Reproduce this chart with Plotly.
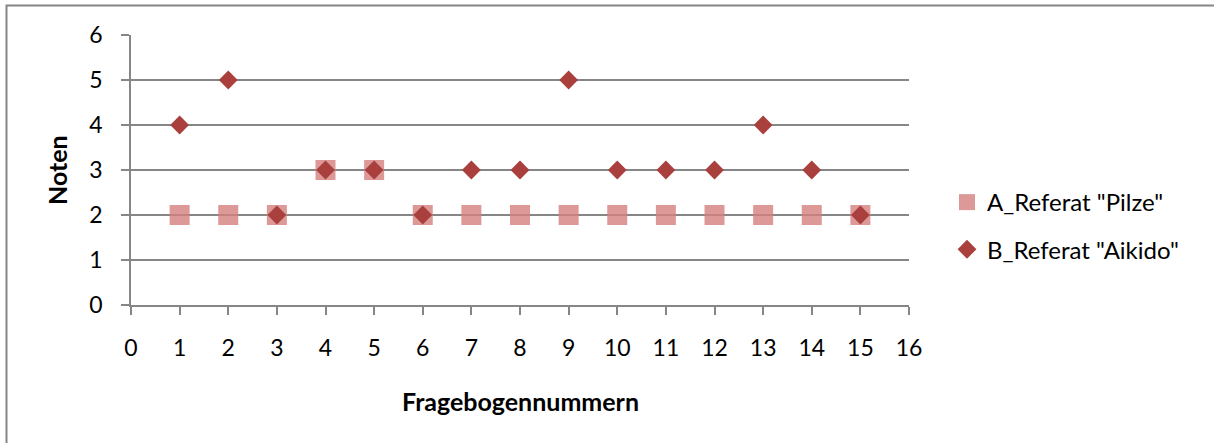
import plotly.graph_objects as go

fragebogen = list(range(1, 16))
noten_pilze = [2, 2, 2, 3, 3, 2, 2, 2, 2, 2, 2, 2, 2, 2, 2]
noten_aikido = [4, 5, 2, 3, 3, 2, 3, 3, 5, 3, 3, 3, 4, 3, 2]
name_a = 'A_Referat "Pilze"'
name_b = 'B_Referat "Aikido"'

FONT = "Lato, Open Sans, sans-serif"
FS_TICK = 23
FS_LEG = 24
FS_TITLE = 25
L, R, T, B = 131, 909, 35, 305
W, H = 1214, 443

fig = go.Figure()
fig.add_trace(go.Scatter(
    x=fragebogen, y=noten_pilze, mode="markers", name=name_a,
    legendgroup="a",
    marker=dict(symbol="square", size=20, color="rgba(211,128,126,0.8)", line=dict(width=0)),
))
fig.add_trace(go.Scatter(
    x=fragebogen, y=noten_aikido, mode="markers", name=name_b,
    legendgroup="b",
    marker=dict(symbol="diamond", size=14.5, color="#A9403D", line=dict(width=0)),
))

def px_x(px):
    return (px - L) / (R - L)

def px_y(py):
    return (B - py) / (B - T)

fig.update_layout(
    width=W, height=H,
    margin=dict(l=L, r=W - R, t=T, b=H - B, pad=0),
    paper_bgcolor="white", plot_bgcolor="white",
    font=dict(family=FONT, size=FS_TICK, color="black"),
    xaxis=dict(range=[0, 16], dtick=1, tick0=0, showgrid=False, zeroline=False,
               showline=True, linecolor="#868686", linewidth=1.5,
               ticks="outside", ticklen=8, tickcolor="#868686", tickwidth=1.5,
               tickfont=dict(size=FS_TICK), ticklabelstandoff=14, fixedrange=True),
    yaxis=dict(range=[0, 6], dtick=1, tick0=0, showgrid=True, gridcolor="#868686", gridwidth=1.5,
               zeroline=False, showline=True, linecolor="#868686", linewidth=1.5,
               ticks="outside", ticklen=8, tickcolor="#868686", tickwidth=1.5,
               tickfont=dict(size=FS_TICK), ticklabelstandoff=14, fixedrange=True),
    legend=dict(x=px_x(947), y=px_y(180), xanchor="left", yanchor="top",
                font=dict(size=FS_LEG), tracegroupgap=13, itemwidth=30,
                bgcolor="rgba(0,0,0,0)"),
    showlegend=True,
    shapes=[dict(type="rect", xref="paper", yref="paper",
                 x0=px_x(6.5), x1=px_x(1230), y0=px_y(5.5), y1=px_y(460),
                 line=dict(color="#868686", width=2), layer="below")],
    annotations=[
        dict(text="<b>Fragebogennummern</b>", xref="paper", yref="paper",
             x=px_x(520), y=px_y(401), showarrow=False, font=dict(size=FS_TITLE),
             xanchor="center", yanchor="middle"),
        dict(text="<b>Noten</b>", xref="paper", yref="paper",
             x=px_x(57), y=px_y(170), showarrow=False, font=dict(size=FS_TITLE),
             textangle=-90, xanchor="center", yanchor="middle"),
    ],
)

fig.write_html("out.html", config={"displayModeBar": False},
               post_script="document.body.style.margin='0';document.body.style.padding='0';")
